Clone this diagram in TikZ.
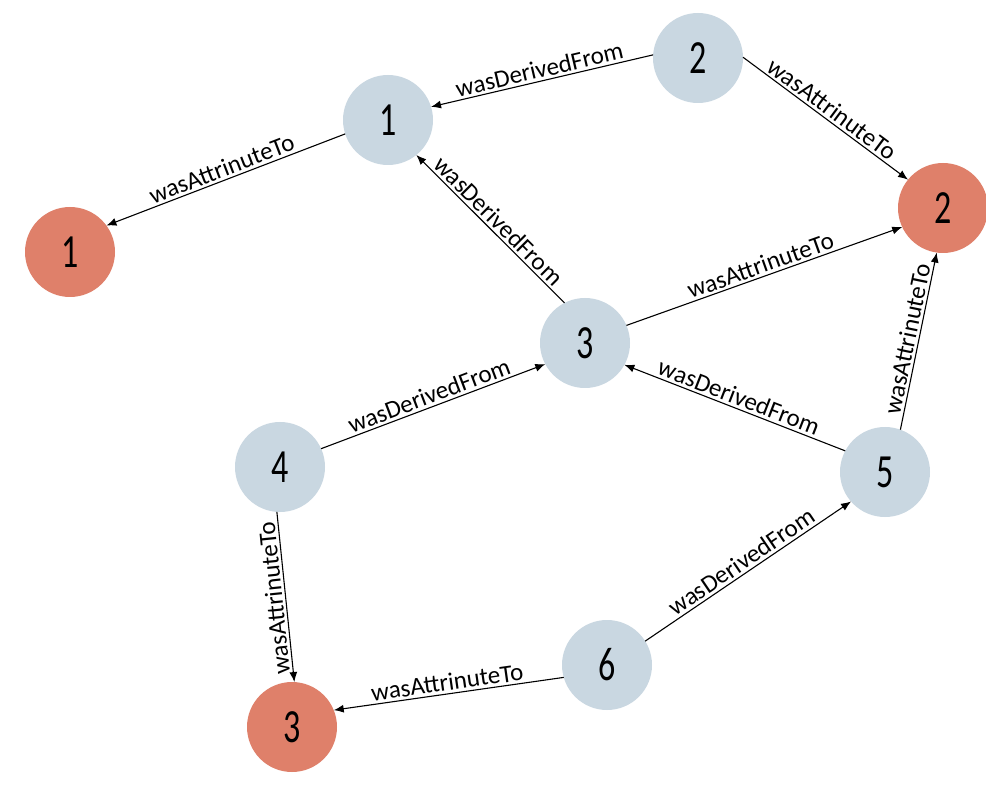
\documentclass[tikz,border=0pt]{standalone}
\usepackage{fontspec}
\setmainfont{Carlito}
\usepackage{graphicx}
\usetikzlibrary{arrows.meta}

\definecolor{entityblue}{HTML}{C9D7E1}
\definecolor{agentred}{HTML}{DF806A}

\tikzset{
  entity/.style={circle, fill=entityblue, minimum size=90pt, inner sep=0pt, outer sep=0pt,
    font=\fontsize{34}{34}\selectfont},
  agent/.style={entity, fill=agentred},
  rel/.style={line width=1.1pt, -{Latex[length=10pt,width=8pt]}},
  rlabel/.style={midway, sloped, above, inner sep=2.5pt, font=\fontsize{25}{25}\selectfont}
}
\newcommand{\tallnum}[1]{\scalebox{1}[1.4]{#1}}

\begin{document}
\begin{tikzpicture}[x=1pt, y=-1pt]
  \useasboundingbox[fill=white] (0,0) rectangle (986,786);

  % entities (blue) and agents (red)
  \node[entity] (e1) at (388,120) {\tallnum{1}};
  \node[entity] (e2) at (698,58)  {\tallnum{2}};
  \node[entity] (e3) at (585,343) {\tallnum{3}};
  \node[entity] (e4) at (280,467) {\tallnum{4}};
  \node[entity] (e5) at (885,472) {\tallnum{5}};
  \node[entity] (e6) at (607,665) {\tallnum{6}};
  \node[agent]  (a1) at (70,252)  {\tallnum{1}};
  \node[agent]  (a2) at (943,208) {\tallnum{2}};
  \node[agent]  (a3) at (292,727) {\tallnum{3}};

  % relations
  \draw[rel] (e2.176) -- node[rlabel] {wasDerivedFrom} (e1.17);
  \draw[rel] (e1.198) -- node[rlabel] {wasAttrinuteTo} (a1.36);
  \draw[rel] (e2.1)   -- node[rlabel] {wasAttrinuteTo} (a2.141);
  \draw[rel] (e3.117) -- node[rlabel] {wasDerivedFrom} (e1.-51);
  \draw[rel] (e3.23)  -- node[rlabel] {wasAttrinuteTo} (a2.205);
  \draw[rel] (e4.24)  -- node[rlabel] {wasDerivedFrom} (e3.208);
  \draw[rel] (e5.152) -- node[rlabel] {wasDerivedFrom} (e3.-29);
  \draw[rel] (e5.70)  -- node[rlabel] {wasAttrinuteTo} (a2.-98);
  \draw[rel, {Latex[length=10pt,width=8pt]}-] (a3.87) -- node[rlabel, allow upside down] {wasAttrinuteTo} (e4.-94);
  \draw[rel] (e6.196) -- node[rlabel] {wasAttrinuteTo} (a3.22);
  \draw[rel] (e6.32)  -- node[rlabel] {wasDerivedFrom} (e5.221);
\end{tikzpicture}
\end{document}
